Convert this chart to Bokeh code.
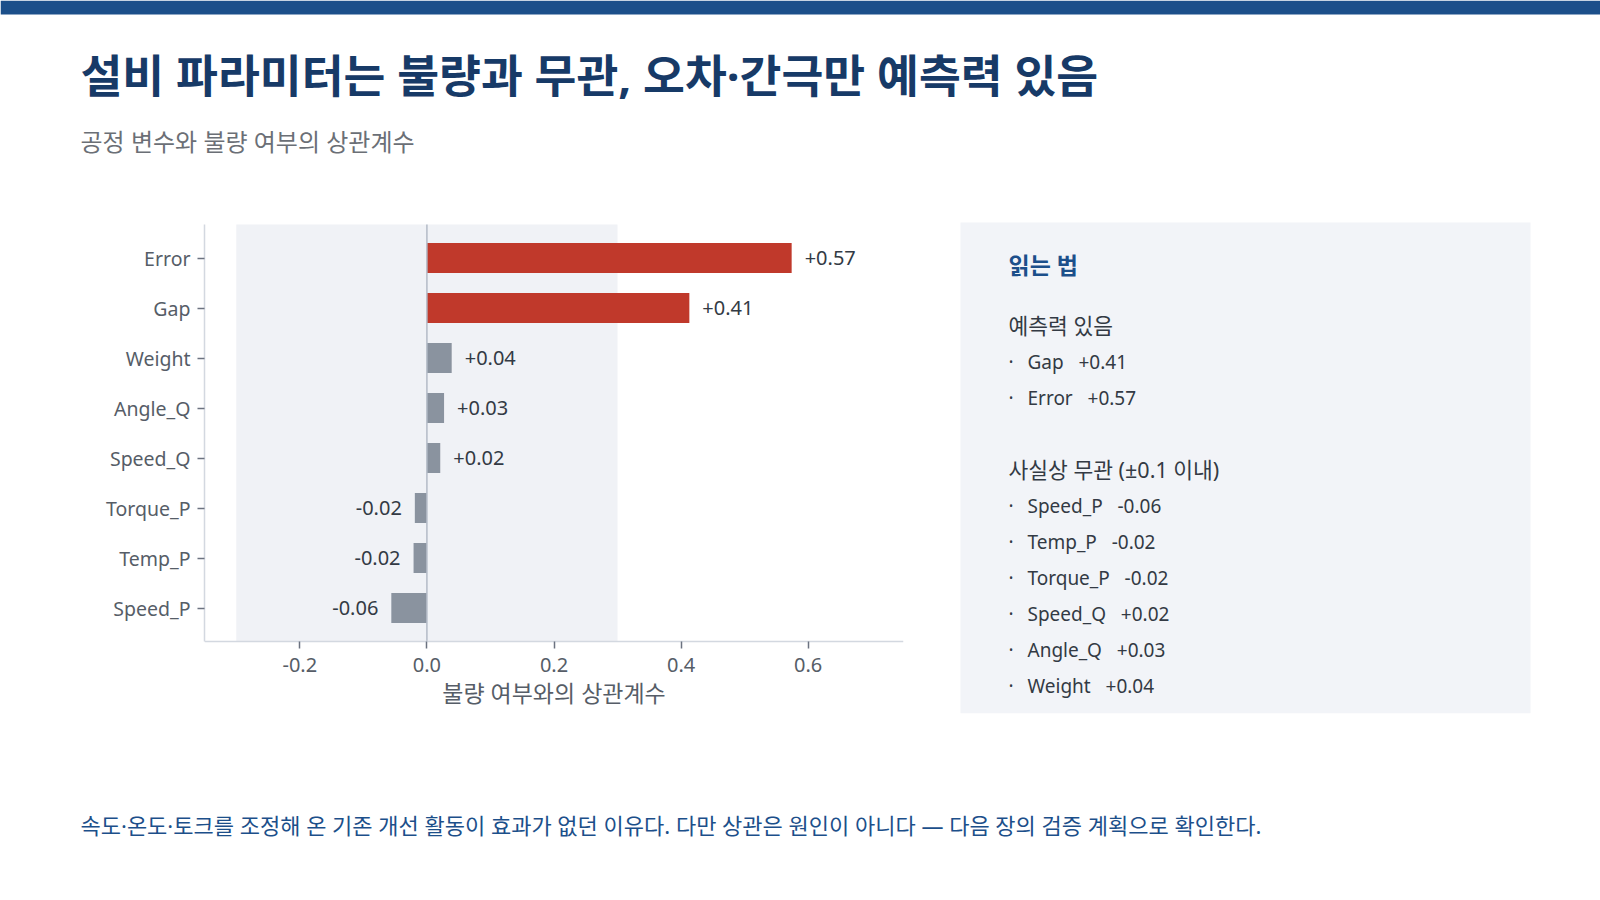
from bokeh.plotting import figure
from bokeh.layouts import column, row
from bokeh.models import Range1d, FixedTicker, PrintfTickFormatter, BoxAnnotation, ColumnDataSource
from bokeh.core.properties import value
from bokeh.embed import file_html
from bokeh.resources import INLINE

# ---------------- data ----------------
variables = ["Speed_P", "Temp_P", "Torque_P", "Speed_Q", "Angle_Q", "Weight", "Gap", "Error"]
corr = [-0.056, -0.021, -0.019, 0.021, 0.027, 0.039, 0.413, 0.574]
x_ticks = [-0.2, 0.0, 0.2, 0.4, 0.6]
threshold = 0.1

title_text = "설비 파라미터는 불량과 무관, 오차·간극만 예측력 있음"
subtitle_text = "공정 변수와 불량 여부의 상관계수"
x_label = "불량 여부와의 상관계수"
panel_title = "읽는 법"
panel_head1 = "예측력 있음"
panel_head2 = "사실상 무관 (±0.1 이내)"
footer_text = "속도·온도·토크를 조정해 온 기존 개선 활동이 효과가 없던 이유다. 다만 상관은 원인이 아니다 — 다음 장의 검증 계획으로 확인한다."

KR = "'Noto Sans', 'Noto Sans CJK KR'"
LAT = "'Noto Sans'"

NAVY = "#173a67"
BLUE = "#1c4f8a"
RED = "#c0392b"
GRAY_BAR = "#8a939f"
TEXT = "#333a44"
MUTED = "#565d67"

# ---------------- layout geometry (page pixels) ----------------
W, H = 1600, 900
ROW_TOP, ROW_FRAME_BOTTOM, ROW_BORDER_BOTTOM = 214, 713, 95
ROW_BOTTOM = ROW_FRAME_BOTTOM + ROW_BORDER_BOTTOM
CH_LEFT, CH_W, CH_RIGHT_PAD = 204, 699, 37
PLOT_TOP, PLOT_BOTTOM = 224, 641
Y_LO, Y_HI = -0.67, 7.67
PX_PER_UNIT = (PLOT_BOTTOM - PLOT_TOP) / (Y_HI - Y_LO)


def blank(w, h, x0, x1, y_top, y_bot, **kw):
    f = figure(width=w, height=h, x_range=Range1d(x0, x1), y_range=Range1d(y_bot, y_top),
               toolbar_location=None, output_backend="svg", min_border=0,
               x_axis_location=None, y_axis_location=None, outline_line_color=None, **kw)
    f.grid.visible = False
    return f


def txt(f, X, Y, s, size, color, bold=False, font=KR):
    f.text(x=[X], y=[Y], text=[s], text_font=value(font), text_font_size=size,
           text_font_style="bold" if bold else "normal", text_color=color,
           text_align="left", text_baseline="middle")


# ---------------- header ----------------
header = blank(W, ROW_TOP, 0, W, 0, ROW_TOP)
header.quad(left=[0], right=[W], top=[0], bottom=[14], fill_color=BLUE, line_color=None)
txt(header, 80, 74, title_text, "45.5px", NAVY, bold=True)
txt(header, 80, 141, subtitle_text, "24px", "#6b6f76")

# ---------------- chart ----------------
ys = list(range(len(variables)))
colors = [RED if abs(v) > threshold else GRAY_BAR for v in corr]
labels = [f"{v:+.2f}" for v in corr]
src = ColumnDataSource(dict(y=ys, v=corr, c=colors, lab=labels))
pos = ColumnDataSource(dict(y=[y for y, v in zip(ys, corr) if v >= 0],
                            v=[v for v in corr if v >= 0],
                            lab=[l for l, v in zip(labels, corr) if v >= 0]))
neg = ColumnDataSource(dict(y=[y for y, v in zip(ys, corr) if v < 0],
                            v=[v for v in corr if v < 0],
                            lab=[l for l, v in zip(labels, corr) if v < 0]))

y_top = Y_HI + (PLOT_TOP - ROW_TOP) / PX_PER_UNIT
y_bot = Y_LO - (ROW_FRAME_BOTTOM - PLOT_BOTTOM) / PX_PER_UNIT

p = figure(frame_width=CH_W, frame_height=ROW_FRAME_BOTTOM - ROW_TOP,
           x_range=Range1d(-0.35, 0.75), y_range=Range1d(y_bot, y_top),
           toolbar_location=None, output_backend="svg",
           min_border_left=CH_LEFT, min_border_right=CH_RIGHT_PAD,
           min_border_top=0, min_border_bottom=ROW_BORDER_BOTTOM,
           outline_line_color=None, background_fill_color="white")
p.grid.visible = False
p.add_layout(BoxAnnotation(left=-0.3, right=0.3, top=Y_HI, bottom=Y_LO, fill_color="#f0f2f6",
                           fill_alpha=1.0, line_color=None, level="underlay"))
p.hbar(y="y", right="v", left=0, height=0.6, fill_color="c", line_color=None, source=src)
p.segment(x0=[0], y0=[Y_LO], x1=[0], y1=[Y_HI], line_color="#b3bbc7", line_width=1.5)
p.text(x="v", y="y", text="lab", source=pos, x_offset=13, text_align="left", text_baseline="middle",
       text_font=value(LAT), text_font_size="20px", text_color=TEXT)
p.text(x="v", y="y", text="lab", source=neg, x_offset=-13, text_align="right", text_baseline="middle",
       text_font=value(LAT), text_font_size="20px", text_color=TEXT)

p.yaxis.ticker = FixedTicker(ticks=ys)
p.yaxis.major_label_overrides = {i: n for i, n in enumerate(variables)}
p.yaxis.bounds = (Y_LO, Y_HI)
p.xaxis.ticker = FixedTicker(ticks=x_ticks)
p.xaxis.formatter = PrintfTickFormatter(format="%.1f")
p.xaxis.fixed_location = Y_LO
p.axis.minor_tick_line_color = None
p.axis.major_tick_in = 0
p.axis.major_tick_out = 7
p.axis.axis_line_color = "#d3d8e0"
p.axis.axis_line_width = 1.5
p.axis.major_tick_line_color = "#6b7280"
p.axis.major_tick_line_width = 1.5
p.axis.major_label_text_font = LAT
p.axis.major_label_text_color = MUTED
p.yaxis.major_label_text_font_size = "19.5px"
p.xaxis.major_label_text_font_size = "20px"
p.yaxis.major_label_standoff = 7
p.xaxis.major_label_standoff = 9
p.xaxis.axis_label = x_label
p.xaxis.axis_label_text_font = KR
p.xaxis.axis_label_text_font_size = "23px"
p.xaxis.axis_label_text_font_style = "normal"
p.xaxis.axis_label_text_color = MUTED
p.xaxis.axis_label_standoff = 2

# ---------------- side panel ----------------
PX0 = CH_LEFT + CH_W + CH_RIGHT_PAD
panel = figure(frame_width=W - PX0, frame_height=ROW_FRAME_BOTTOM - ROW_TOP,
               x_range=Range1d(PX0, W), y_range=Range1d(ROW_FRAME_BOTTOM, ROW_TOP),
               toolbar_location=None, output_backend="svg",
               min_border_left=0, min_border_right=0, min_border_top=0,
               min_border_bottom=ROW_BORDER_BOTTOM,
               x_axis_location=None, y_axis_location=None, outline_line_color=None)
panel.grid.visible = False
panel.quad(left=[960], right=[1530], top=[222], bottom=[713], fill_color="#f2f4f8", line_color=None)
txt(panel, 1008, 264, panel_title, "23px", BLUE, bold=True)

pred = sorted([(n, v) for n, v in zip(variables, corr) if abs(v) > threshold], key=lambda t: t[1])
flat = sorted([(n, v) for n, v in zip(variables, corr) if abs(v) <= threshold], key=lambda t: t[1])

y0, step = 325, 36
head2_y = y0 + step * (len(pred) + 2)
txt(panel, 1008, y0, panel_head1, "21.5px", TEXT)
txt(panel, 1008, head2_y, panel_head2, "21.5px", TEXT)

gap = "\u00a0\u00a0\u00a0"
items = [(y0 + step * (i + 1), n, v) for i, (n, v) in enumerate(pred)] + \
        [(head2_y + step * (i + 1), n, v) for i, (n, v) in enumerate(flat)]
panel.text(x=[1008] * len(items), y=[it[0] for it in items], text=["·"] * len(items),
           text_font=value(LAT), text_font_size="19px", text_color=TEXT,
           text_align="left", text_baseline="middle")
panel.text(x=[1027] * len(items), y=[it[0] for it in items],
           text=[f"{n}{gap}{v:+.2f}" for _, n, v in items],
           text_font=value(LAT), text_font_size="19px", text_color=TEXT,
           text_align="left", text_baseline="middle")

# ---------------- footer ----------------
footer = blank(W, H - ROW_BOTTOM, 0, W, ROW_BOTTOM, H)
txt(footer, 80, 824, footer_text, "22px", BLUE)

layout = column(header, row(p, panel, spacing=0), footer, spacing=0)
open("out.html", "w").write(file_html(layout, INLINE))
